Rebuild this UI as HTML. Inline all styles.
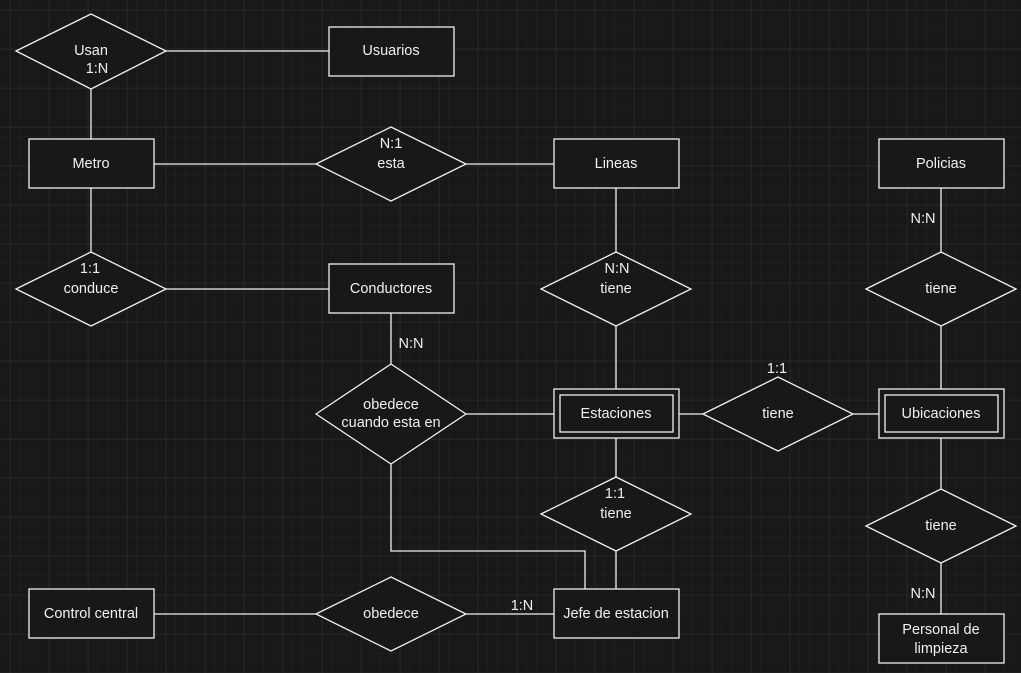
<!DOCTYPE html>
<html><head><meta charset="utf-8"><style>
html,body{margin:0;padding:0;background:#181818;}
svg{display:block;}
text{font-family:"Liberation Sans",sans-serif;font-size:14.5px;fill:#f0f0f0;text-anchor:middle;dominant-baseline:middle;}
</style></head><body>
<svg width="1021" height="673" viewBox="0 0 1021 673" xmlns="http://www.w3.org/2000/svg">
<defs>
<pattern id="minor" x="0.25" y="0.25" width="9.75" height="9.75" patternUnits="userSpaceOnUse">
<path d="M9.75 0V9.75M0 9.75H9.75" stroke="#232323" stroke-width="1" fill="none"/>
</pattern>
<pattern id="major" x="-29" y="10" width="39" height="39" patternUnits="userSpaceOnUse">
<path d="M0 0V39M0 0H39" stroke="#2d2d2d" stroke-width="1" fill="none"/>
</pattern>
</defs>
<rect width="1021" height="673" fill="#181818"/>
<rect width="1021" height="673" fill="url(#minor)"/>
<rect width="1021" height="673" fill="url(#major)"/>
<g stroke="#f0f0f0" stroke-width="1.3" fill="none">
<line x1="166" y1="51" x2="329" y2="51"/>
<line x1="91" y1="89" x2="91" y2="139"/>
<line x1="154" y1="164" x2="316" y2="164"/>
<line x1="466" y1="164" x2="554" y2="164"/>
<line x1="91" y1="188" x2="91" y2="252"/>
<line x1="166" y1="289" x2="329" y2="289"/>
<line x1="616" y1="188" x2="616" y2="252"/>
<line x1="616" y1="326" x2="616" y2="389"/>
<line x1="941" y1="188" x2="941" y2="252"/>
<line x1="941" y1="326" x2="941" y2="389"/>
<line x1="391" y1="313" x2="391" y2="364"/>
<line x1="466" y1="414" x2="554" y2="414"/>
<line x1="679" y1="414" x2="703" y2="414"/>
<line x1="853" y1="414" x2="879" y2="414"/>
<line x1="616" y1="438" x2="616" y2="477"/>
<line x1="616" y1="551" x2="616" y2="589"/>
<line x1="941" y1="438" x2="941" y2="489"/>
<line x1="941" y1="563" x2="941" y2="614"/>
<polyline points="391,464 391,551 585,551 585,589"/>
<line x1="154" y1="614" x2="316" y2="614"/>
<line x1="466" y1="614" x2="554" y2="614"/>
</g>
<g stroke="#f0f0f0" stroke-width="1.3" fill="#181818">
<polygon points="16,51 91,14 166,51 91,89"/>
<rect x="329" y="27" width="125" height="49"/>
<rect x="29" y="139" width="125" height="49"/>
<polygon points="316,164 391,127 466,164 391,201"/>
<rect x="554" y="139" width="125" height="49"/>
<rect x="879" y="139" width="125" height="49"/>
<polygon points="16,289 91,252 166,289 91,326"/>
<rect x="329" y="264" width="125" height="49"/>
<polygon points="541,289 616,252 691,289 616,326"/>
<polygon points="866,289 941,252 1016,289 941,326"/>
<polygon points="316,414 391,364 466,414 391,464"/>
<rect x="554" y="389" width="125" height="49"/>
<rect x="560" y="395" width="113" height="37"/>
<polygon points="703,414 778,377 853,414 778,451"/>
<rect x="879" y="389" width="125" height="49"/>
<rect x="885" y="395" width="113" height="37"/>
<polygon points="541,514 616,477 691,514 616,551"/>
<polygon points="866,526 941,489 1016,526 941,563"/>
<rect x="29" y="589" width="125" height="49"/>
<polygon points="316,614 391,577 466,614 391,651"/>
<rect x="554" y="589" width="125" height="49"/>
<rect x="879" y="614" width="125" height="49"/>
</g>
<text x="91" y="51">Usan</text><text x="97" y="69">1:N</text>
<text x="391" y="51">Usuarios</text>
<text x="91" y="164">Metro</text>
<text x="391" y="144">N:1</text><text x="391" y="164">esta</text>
<text x="616" y="164">Lineas</text>
<text x="941" y="164">Policias</text>
<text x="923" y="219">N:N</text>
<text x="90" y="269">1:1</text><text x="91" y="289">conduce</text>
<text x="391" y="289">Conductores</text>
<text x="617" y="269">N:N</text><text x="616" y="289">tiene</text>
<text x="941" y="289">tiene</text>
<text x="411" y="344">N:N</text>
<text x="391" y="405">obedece</text><text x="391" y="423">cuando esta en</text>
<text x="616" y="414">Estaciones</text>
<text x="777" y="369">1:1</text><text x="778" y="414">tiene</text>
<text x="941" y="414">Ubicaciones</text>
<text x="615" y="494">1:1</text><text x="616" y="514">tiene</text>
<text x="941" y="526">tiene</text>
<text x="923" y="594">N:N</text>
<text x="91" y="614">Control central</text>
<text x="391" y="614">obedece</text>
<text x="522" y="606">1:N</text>
<text x="616" y="614">Jefe de estacion</text>
<text x="941" y="630">Personal de</text><text x="941" y="649">limpieza</text>
</svg>
</body></html>
